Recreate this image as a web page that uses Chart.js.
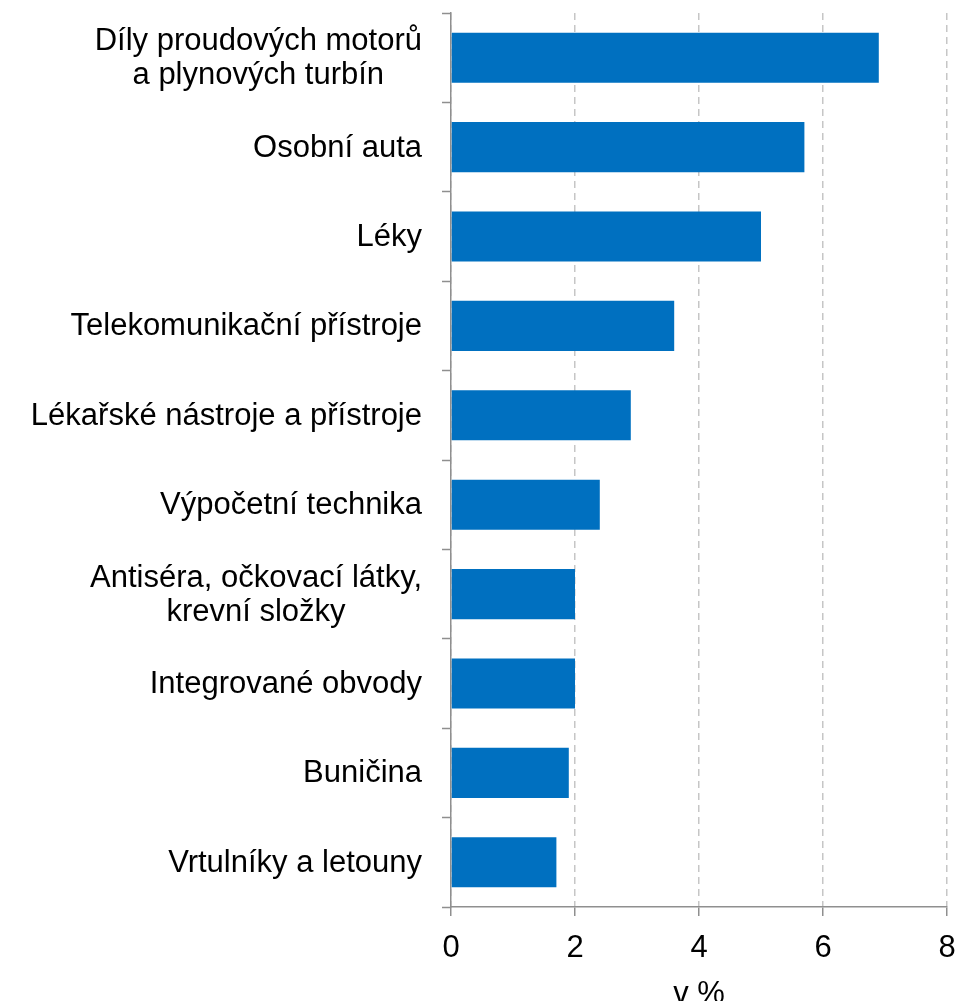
<!DOCTYPE html>
<html lang="cs">
<head>
<meta charset="UTF-8">
<title>Vývoz high-tech zboží</title>
<script src="https://cdn.jsdelivr.net/npm/chart.js"></script>
<style>
    body { margin: 0; background: #fff; }
    #wrap { width: 958px; height: 1001px; position: relative; }
</style>
</head>
<body>
<div id="wrap"><canvas id="chart"></canvas></div>
<script>
    // data
    const categories = [
        ['Díly proudových motorů', 'a plynových turbín'],
        'Osobní auta',
        'Léky',
        'Telekomunikační přístroje',
        'Lékařské nástroje a přístroje',
        'Výpočetní technika',
        ['Antiséra, očkovací látky,', 'krevní složky'],
        'Integrované obvody',
        'Buničina',
        'Vrtulníky a letouny'
    ];
    const values = [6.9, 5.7, 5.0, 3.6, 2.9, 2.4, 2.0, 2.0, 1.9, 1.7];
    const xTicks = [0, 2, 4, 6, 8];
    const xTitle = 'v %';

    const FONT = '"Liberation Sans", Arial, sans-serif';
    const AXIS = '#8f8f8f';

    // y labels: block right aligned, lines centred on each other
    const labelPlugin = {
        id: 'yLabels',
        afterDraw(chart) {
            const ctx = chart.ctx;
            const y = chart.scales.y;
            const right = chart.chartArea.left - 29;
            ctx.save();
            ctx.font = '31px ' + FONT;
            ctx.fillStyle = '#000';
            ctx.textAlign = 'center';
            ctx.textBaseline = 'middle';
            categories.forEach((lab, i) => {
                const lines = Array.isArray(lab) ? lab : [lab];
                const w = Math.max(...lines.map(l => ctx.measureText(l).width));
                const cx = right - w / 2;
                const cy = y.getPixelForTick(i) + 1;
                lines.forEach((l, k) => {
                    ctx.fillText(l, cx, cy + (k - (lines.length - 1) / 2) * 34);
                });
            });
            ctx.restore();
        }
    };

    new Chart(document.getElementById('chart'), {
        type: 'bar',
        data: {
            labels: categories,
            datasets: [{
                data: values,
                backgroundColor: '#0070c0',
                barPercentage: 0.56,
                categoryPercentage: 1
            }]
        },
        options: {
            indexAxis: 'y',
            responsive: true,
            maintainAspectRatio: false,
            animation: false,
            layout: { padding: { top: 13, right: 3, left: 0, bottom: 0 } },
            plugins: { legend: { display: false }, tooltip: { enabled: false } },
            scales: {
                x: {
                    min: 0,
                    max: 8,
                    afterBuildTicks: s => { s.ticks = xTicks.map(v => ({ value: v })); },
                    ticks: { color: '#000', font: { family: FONT, size: 31 }, padding: 14 },
                    grid: {
                        color: '#c6c6c6',
                        lineWidth: 1.5,
                        tickColor: AXIS,
                        tickLength: 9,
                        tickWidth: 1.5
                    },
                    border: { color: AXIS, width: 1.5, dash: [7, 5] },
                    title: {
                        display: true,
                        text: xTitle,
                        color: '#000',
                        font: { family: FONT, size: 31, lineHeight: 1 },
                        padding: { top: 0, bottom: -9 }
                    },
                    afterFit: s => {
                        s.height = 94;
                        s.paddingLeft = 0;
                        s.paddingRight = 11;
                    }
                },
                y: {
                    ticks: { color: 'transparent', font: { family: FONT, size: 31 } },
                    grid: {
                        drawOnChartArea: false,
                        tickColor: AXIS,
                        tickLength: 9,
                        tickWidth: 1.5
                    },
                    border: { color: AXIS, width: 1.5 },
                    afterFit: s => {
                        s.width = 451;
                        s.paddingTop = 0;
                        s.paddingBottom = 0;
                    }
                }
            }
        },
        plugins: [labelPlugin]
    });
</script>
</body>
</html>
